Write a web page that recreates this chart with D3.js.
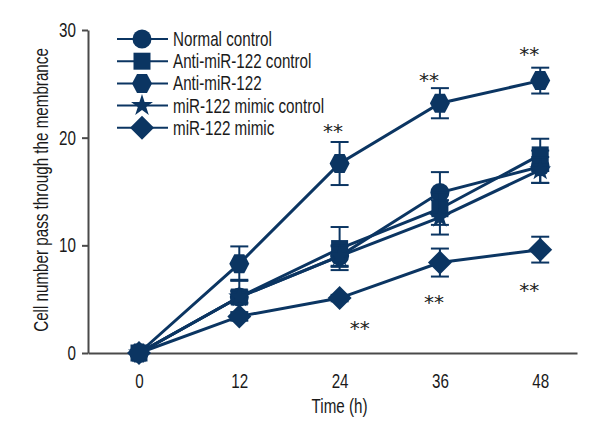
<!DOCTYPE html>
<html>
<head>
<meta charset="utf-8">
<script src="https://cdn.jsdelivr.net/npm/d3@7"></script>
<style>
  html, body { margin: 0; padding: 0; background: #fff; }
  svg { display: block; }
  text { font-family: "Liberation Sans", Arial, sans-serif; fill: #1a1a1a; }
  text.sig { font-family: "DejaVu Sans", sans-serif; fill: #222; }
</style>
</head>
<body>
<svg id="chart" width="600" height="440"></svg>
<script>
// ---- data ----
const times = [0, 12, 24, 36, 48];
const seriesNames = ["Normal control", "Anti-miR-122 control", "Anti-miR-122", "miR-122 mimic control", "miR-122 mimic"];
const seriesShapes = ["circle", "square", "hexagon", "star", "diamond"];
const normalControl      = [0, 5.2, 9.0, 14.9, 17.3];
const normalControlErr   = [0, 0.5, 0.9, 1.9, 1.5];
const antiControl        = [0, 5.2, 9.7, 13.4, 18.4];
const antiControlErr     = [0, 1.6, 2.0, 1.5, 1.5];
const antiMiR            = [0, 8.3, 17.6, 23.2, 25.3];
const antiMiRErr         = [0, 1.6, 2.0, 1.4, 1.2];
const mimicControl       = [0, 5.2, 9.0, 12.6, 17.0];
const mimicControlErr    = [0, 0.6, 1.0, 1.6, 1.2];
const mimic              = [0, 3.4, 5.1, 8.4, 9.6];
const mimicErr           = [0, 0.4, 0.3, 1.3, 1.2];
const allValues = [normalControl, antiControl, antiMiR, mimicControl, mimic];
const allErrors = [normalControlErr, antiControlErr, antiMiRErr, mimicControlErr, mimicErr];
const yTicks = [0, 10, 20, 30];
const xTickLabels = ["0", "12", "24", "36", "48"];
// significance marks: [time, value] (baseline of the "**" label)
const sigMarks = [[23.2, 20.0], [34.7, 24.7], [46.7, 27.1], [26.4, 1.7], [35.3, 4.1], [46.7, 5.2]];

// ---- chart ----
const color = "#0b3562";
const axisColor = "#4a4a4a";
const fs = 20;      // font size
const sx = 0.76;    // horizontal condensing
const svg = d3.select("#chart");

const x = d3.scaleLinear().domain([-6.1, 52.4]).range([88, 577]);
const y = d3.scaleLinear().domain([0, 30]).range([353, 30]);

// y axis
const yAxis = svg.append("g").attr("transform", "translate(88,0)")
  .call(d3.axisLeft(y).tickValues(yTicks).tickSize(6).tickPadding(5).tickSizeOuter(0));
yAxis.select(".domain").attr("stroke", axisColor).attr("stroke-width", 2);
yAxis.selectAll(".tick line").attr("stroke", axisColor).attr("stroke-width", 2);
yAxis.selectAll(".tick text").attr("font-size", fs).attr("font-family", null).attr("fill", "#1a1a1a")
  .attr("x", -12 / sx).attr("transform", `scale(${sx},1)`);

// x axis
const xAxis = svg.append("g").attr("transform", "translate(0,353)")
  .call(d3.axisBottom(x).tickValues(times).tickFormat((d, i) => xTickLabels[i]).tickSize(0).tickPadding(21).tickSizeOuter(0));
xAxis.select(".domain").attr("stroke", axisColor).attr("stroke-width", 2);
xAxis.selectAll(".tick text").attr("font-size", fs).attr("font-family", null).attr("fill", "#1a1a1a")
  .attr("transform", `scale(${sx},1)`);

// axis titles
svg.append("text").attr("transform", `translate(${x(24)},413) scale(${sx},1)`).attr("text-anchor", "middle")
  .attr("font-size", fs).text("Time (h)");
svg.append("text").attr("transform", `translate(48,190) rotate(-90) scale(${sx},1)`).attr("text-anchor", "middle")
  .attr("font-size", fs).text("Cell number pass through the membrance");

// symbols
function symbolPath(shape) {
  switch (shape) {
    case "circle": return d3.symbol(d3.symbolCircle, Math.PI * 9.5 * 9.5)();
    case "square": return d3.symbol(d3.symbolSquare, 17 * 17)();
    case "diamond": {
      const r = 12;
      return `M0,${-r}L${r},0L0,${r}L${-r},0Z`;
    }
    case "hexagon": {
      const rx = 10, ry = 9.5;
      return `M${-rx},0L${-rx/2},${-ry}L${rx/2},${-ry}L${rx},0L${rx/2},${ry}L${-rx/2},${ry}Z`;
    }
    case "star": return d3.symbol(d3.symbolStar, 150)();
  }
}

const line = d3.line().x((d, i) => x(times[i])).y(d => y(d));

allValues.forEach((vals, si) => {
  const g = svg.append("g");
  const errs = allErrors[si];
  vals.forEach((v, i) => {
    if (errs[i] <= 0) return;
    const cx = x(times[i]);
    const y1 = y(v + errs[i]), y2 = y(v - errs[i]);
    g.append("line").attr("x1", cx).attr("x2", cx).attr("y1", y1).attr("y2", y2)
      .attr("stroke", color).attr("stroke-width", 2);
    [y1, y2].forEach(yy => g.append("line").attr("x1", cx - 9).attr("x2", cx + 9).attr("y1", yy).attr("y2", yy)
      .attr("stroke", color).attr("stroke-width", 2));
  });
  g.append("path").attr("d", line(vals)).attr("fill", "none").attr("stroke", color).attr("stroke-width", 3);
  vals.forEach((v, i) => {
    g.append("path").attr("d", symbolPath(seriesShapes[si]))
      .attr("transform", `translate(${x(times[i])},${y(v)})`).attr("fill", color);
  });
});

// significance marks
sigMarks.forEach(([t, v]) => {
  svg.append("text").attr("class", "sig").attr("x", x(t)).attr("y", y(v)).attr("text-anchor", "middle")
    .attr("font-size", 20).text("**");
});

// legend
const legend = svg.append("g");
seriesNames.forEach((name, i) => {
  const ly = 39 + i * 22.2;
  legend.append("line").attr("x1", 117).attr("x2", 168).attr("y1", ly).attr("y2", ly)
    .attr("stroke", color).attr("stroke-width", 2);
  legend.append("path").attr("d", symbolPath(seriesShapes[i]))
    .attr("transform", `translate(142,${ly})`).attr("fill", color);
  legend.append("text").attr("transform", `translate(173,${ly + 7}) scale(${sx},1)`)
    .attr("font-size", fs).text(name);
});
</script>
</body>
</html>
